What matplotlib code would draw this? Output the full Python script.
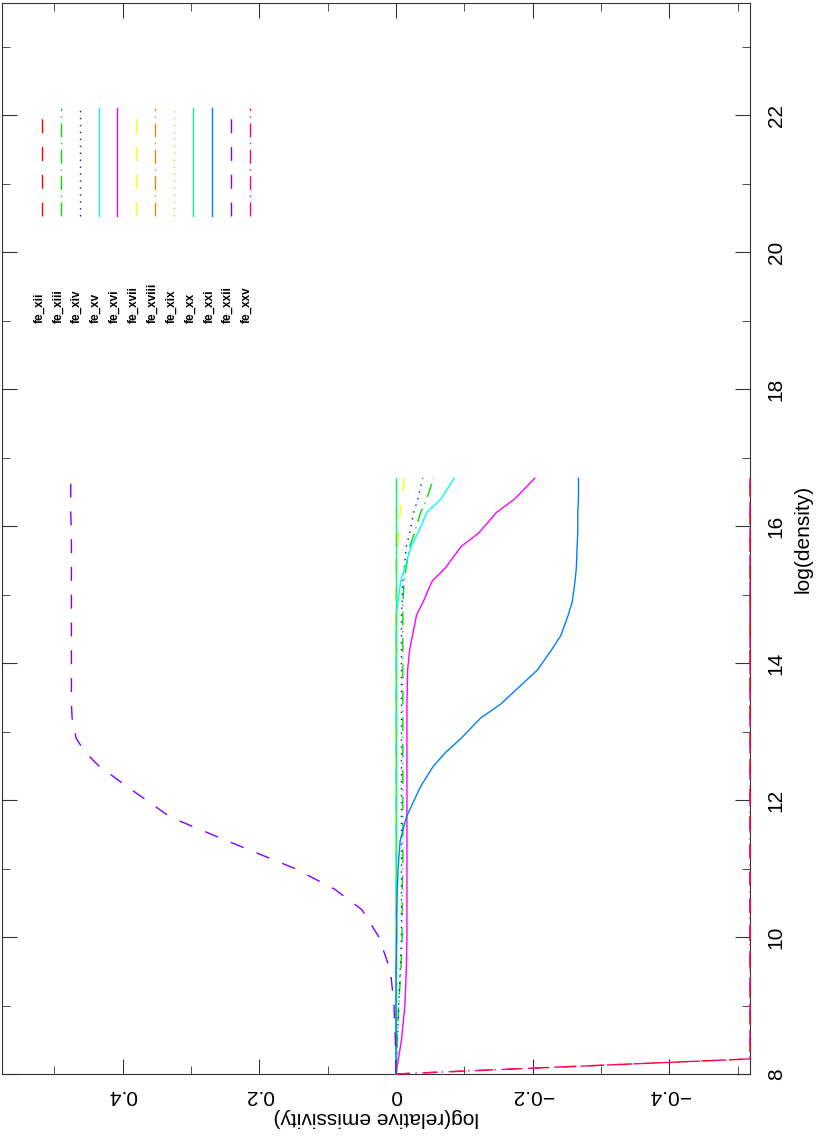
import matplotlib
matplotlib.use("Agg")
import matplotlib.pyplot as plt
from matplotlib.ticker import MultipleLocator

density = [8.0, 8.5, 9.0, 9.5, 10.0, 10.4, 10.7, 11.0, 11.4, 11.75, 12.2, 12.5, 12.7, 12.9,
           13.2, 13.4, 13.9, 14.2, 14.4, 14.7, 14.9, 15.2, 15.4, 15.7, 15.9, 16.2, 16.4, 16.7]

fe_xiii = [0, -0.002, -0.004, -0.007, -0.009, -0.009, -0.009, -0.01, -0.01, -0.01, -0.01, -0.01, -0.01, -0.01,
           -0.01, -0.01, -0.01, -0.01, -0.01, -0.01, -0.01, -0.012, -0.015, -0.02, -0.027, -0.036, -0.045, -0.055]
fe_xiv = [0, -0.002, -0.004, -0.006, -0.008, -0.008, -0.008, -0.008, -0.008, -0.008, -0.008, -0.008, -0.008, -0.008,
          -0.008, -0.008, -0.008, -0.008, -0.008, -0.008, -0.009, -0.01, -0.012, -0.015, -0.02, -0.026, -0.032, -0.039]
fe_xv = [0, 0, 0, 0, 0, 0, 0, 0, 0, 0, 0, 0, 0, 0,
         0, 0, 0, 0, 0, 0, -0.003, -0.007, -0.013, -0.022, -0.032, -0.045, -0.066, -0.085]
fe_xvi = [0, -0.008, -0.013, -0.015, -0.016, -0.016, -0.016, -0.016, -0.016, -0.016, -0.016, -0.016, -0.016, -0.016,
          -0.016, -0.016, -0.017, -0.02, -0.024, -0.03, -0.04, -0.053, -0.073, -0.095, -0.121, -0.147, -0.174, -0.203]
fe_xvii = [0, 0, 0, 0, 0, 0, 0, 0, 0, 0, 0, 0, 0, 0,
           0, 0, 0, 0, 0, 0, 0, 0, 0, -0.002, -0.004, -0.006, -0.009, -0.012]
fe_xviii = [0, 0, 0, 0, 0, 0, 0, 0, 0, 0, 0, 0, 0, 0,
            0, 0, 0, 0, 0, 0, 0, 0, 0, 0, 0, 0, 0, 0]
fe_xix = [0, 0, 0, 0, 0, 0, 0, 0, 0, 0, 0, 0, 0, 0,
          0, 0, 0, 0, 0, 0, 0, 0, 0, 0, 0, 0, 0, 0]
fe_xx = [0, 0, 0, 0, 0, 0, 0, 0, 0, 0, 0, 0, 0, 0,
         0, 0, 0, 0, 0, 0, 0, 0, 0, 0, 0, 0, 0, 0]
fe_xxi = [0, 0, 0, 0, -0.001, -0.001, -0.002, -0.003, -0.006, -0.015, -0.036, -0.055, -0.073, -0.095,
          -0.124, -0.153, -0.207, -0.228, -0.241, -0.252, -0.258, -0.262, -0.264, -0.265, -0.266, -0.266, -0.267, -0.267]
fe_xxii = [0, 0.001, 0.003, 0.008, 0.025, 0.05, 0.09, 0.148, 0.246, 0.33, 0.394, 0.435, 0.455, 0.468,
           0.474, 0.475, 0.475, 0.475, 0.475, 0.475, 0.475, 0.475, 0.475, 0.475, 0.475, 0.476, 0.476, 0.476]
density_steep = [8.0, 8.22, 16.7]
fe_xii = [0, -0.518, -0.518]
fe_xxv = [0, -0.518, -0.518]

names = ["fe_xii", "fe_xiii", "fe_xiv", "fe_xv", "fe_xvi", "fe_xvii", "fe_xviii",
         "fe_xix", "fe_xx", "fe_xxi", "fe_xxii", "fe_xxv"]
series = [(density_steep, fe_xii), (density, fe_xiii), (density, fe_xiv), (density, fe_xv),
          (density, fe_xvi), (density, fe_xvii), (density, fe_xviii), (density, fe_xix),
          (density, fe_xx), (density, fe_xxi), (density, fe_xxii), (density_steep, fe_xxv)]
colors = ["#ff0000", "#00e000", "#0000ff", "#00ffff", "#ff00ff", "#ffff00", "#ff8000",
          "#80ff00", "#00ff80", "#0080ff", "#8000ff", "#ff0080"]
styles = [(0, (10, 10)), (0, (10, 4, 1, 4)), (0, (1, 4)), "-", "-", (0, (10, 10)), (0, (10, 4, 1, 4)),
          (0, (1, 4)), "-", "-", (0, (10, 10)), (0, (10, 4, 1, 4))]

fig = plt.figure(figsize=(8.3, 11.44), dpi=100)
ax = fig.add_axes([0.0024, 0.0612, 0.9012, 0.9362])

for (d, v), c, ls in zip(series, colors, styles):
    ax.plot(v, d, color=c, linestyle=ls, linewidth=1.0, clip_on=False, zorder=3)

# legend (rotated layout)
for i, (n, c, ls) in enumerate(zip(names, colors, styles)):
    xv = 0.518 - i * 0.0276
    ax.plot([xv, xv], [20.53, 22.1], color=c, linestyle=ls, linewidth=1.0)
    ax.text(xv + 0.004, 18.96, n, rotation=90, ha="center", va="bottom",
            fontsize=8.5, fontweight="bold", family="Liberation Sans")

ax.set_xlim(0.5766, -0.518)
ax.set_ylim(8, 23.64)
ax.xaxis.set_major_locator(MultipleLocator(0.2))
ax.xaxis.set_minor_locator(MultipleLocator(0.1))
ax.yaxis.set_major_locator(MultipleLocator(2))
ax.yaxis.set_minor_locator(MultipleLocator(1))
ax.tick_params(which="both", direction="in", top=True, right=True, left=True, bottom=True,
               labelleft=False, labelright=True, color="#333333")
ax.tick_params(which="major", length=11)
ax.tick_params(which="minor", length=6)
ax.tick_params(axis="y", pad=12)
ax.tick_params(axis="x", pad=9)

ax.set_xticks([0.4, 0.2, 0.0, -0.2, -0.4])
ax.set_xticklabels(["0.4", "0.2", "0", "\u22120.2", "\u22120.4"], rotation=180,
                   fontsize=15, family="Liberation Sans")
ax.set_yticks([8, 10, 12, 14, 16, 18, 20, 22])
ax.set_yticklabels(["8", "10", "12", "14", "16", "18", "20", "22"], rotation=90,
                   va="center", fontsize=15, family="Liberation Sans")
ax.set_xlabel("log(relative emissivity)", rotation=180, fontsize=15, family="Liberation Sans", labelpad=2)
ax.yaxis.set_label_position("right")
ax.set_ylabel("log(density)", rotation=90, fontsize=15, family="Liberation Sans", labelpad=6)
for s in ax.spines.values():
    s.set_color("#333333")

fig.savefig("out.png", dpi=100)
